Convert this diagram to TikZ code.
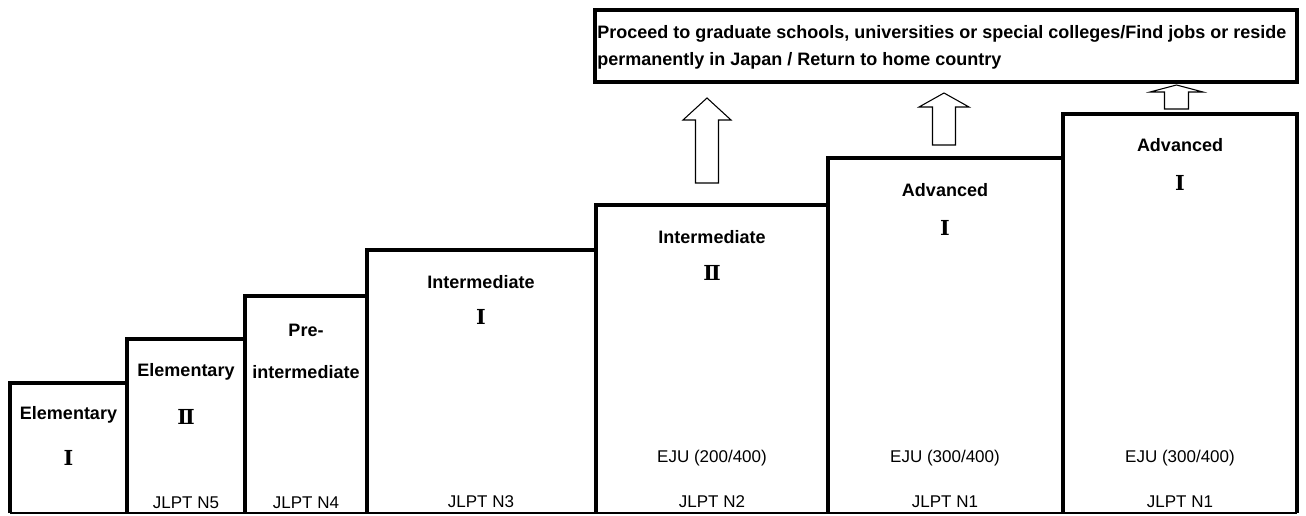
\documentclass[tikz,border=0pt]{standalone}
\usepackage{fontspec}
\setmainfont{Liberation Sans}
\newfontfamily\stepfont{Liberation Sans}
\newfontfamily\numfont{DejaVu Serif}
\tikzset{
  stepline/.style={line width=3.2pt, line join=miter},
  baseline/.style={line width=1.4pt},
  steptitle/.style={font=\stepfont\bfseries\fontsize{13.5}{16}\selectfont, inner sep=0pt},
  stepnum/.style={font=\numfont\bfseries\fontsize{15.5}{17}\selectfont, inner sep=0pt},
  testlabel/.style={font=\fontsize{12.75}{15}\selectfont, inner sep=0pt},
  goaltext/.style={font=\stepfont\bfseries\fontsize{13.5}{20.25}\selectfont, inner sep=0pt, align=left},
  uparrow/.style={draw, fill=white, line width=0.8pt, line join=miter},
}
\begin{document}
\begin{tikzpicture}[x=0.75pt,y=0.75pt,yscale=-1,xscale=1]
\useasboundingbox (0,0) rectangle (1306,516);

%Steps: left/right/top of each level
\foreach \l/\r/\t in {10/127/383, 127/245/339, 245/367/296, 367/596/250,
                      596/828/205, 828/1063/158, 1063/1297/114}
  \draw[stepline] (\l,513) |- (\r,\t) -- (\r,513);
%Ground line
\draw[baseline] (10,513) -- (1297,513);

%Goal box
\draw[stepline] (595,10) rectangle (1297,82);
\node[goaltext, anchor=north west] (goal) at (597,25)
  {Proceed to graduate schools, universities or special colleges/Find jobs or reside\\
   permanently in Japan / Return to home country};

%Block arrows up to the goal
\foreach \cx/\tip/\neck/\foot/\hw/\sw in {707/98/120/183/24/11.5,
                                          944/93/107/145/25/11.5,
                                          1176.5/85/92/109/26.5/12}
  \draw[uparrow] ({\cx-\sw},\foot) -- ({\cx-\sw},\neck) -- ({\cx-\hw},\neck)
    -- (\cx,\tip) -- ({\cx+\hw},\neck) -- ({\cx+\sw},\neck) -- ({\cx+\sw},\foot) -- cycle;

%Level names
\node[steptitle] (elemA) at (68.5,415) {Elementary};
\node[stepnum] (elemAn) at (68.5,458) {Ⅰ};
\node[steptitle] (elemB) at (186,372) {Elementary};
\node[stepnum] (elemBn) at (186,417) {Ⅱ};
\node[steptitle] (pre) at (306,330) {Pre-};
\node[steptitle] (preb) at (306,372) {intermediate};
\node[steptitle] (interA) at (481,282) {Intermediate};
\node[stepnum] (interAn) at (481,317) {Ⅰ};
\node[steptitle] (interB) at (712,237) {Intermediate};
\node[stepnum] (interBn) at (712,273) {Ⅱ};
\node[steptitle] (advA) at (945,190) {Advanced};
\node[stepnum] (advAn) at (945,228) {Ⅰ};
\node[steptitle] (advB) at (1180,145) {Advanced};
\node[stepnum] (advBn) at (1180,183) {Ⅰ};

%Exams
\node[testlabel] (jlptA) at (186,503) {JLPT N5};
\node[testlabel] (jlptB) at (306,503) {JLPT N4};
\node[testlabel] (jlptC) at (481,502) {JLPT N3};
\node[testlabel] (ejuA) at (712,458) {EJU (200/400)};
\node[testlabel] (jlptD) at (712,502) {JLPT N2};
\node[testlabel] (ejuB) at (945,458) {EJU (300/400)};
\node[testlabel] (jlptE) at (945,502) {JLPT N1};
\node[testlabel] (ejuC) at (1180,458) {EJU (300/400)};
\node[testlabel] (jlptF) at (1180,502) {JLPT N1};

\end{tikzpicture}
\end{document}
